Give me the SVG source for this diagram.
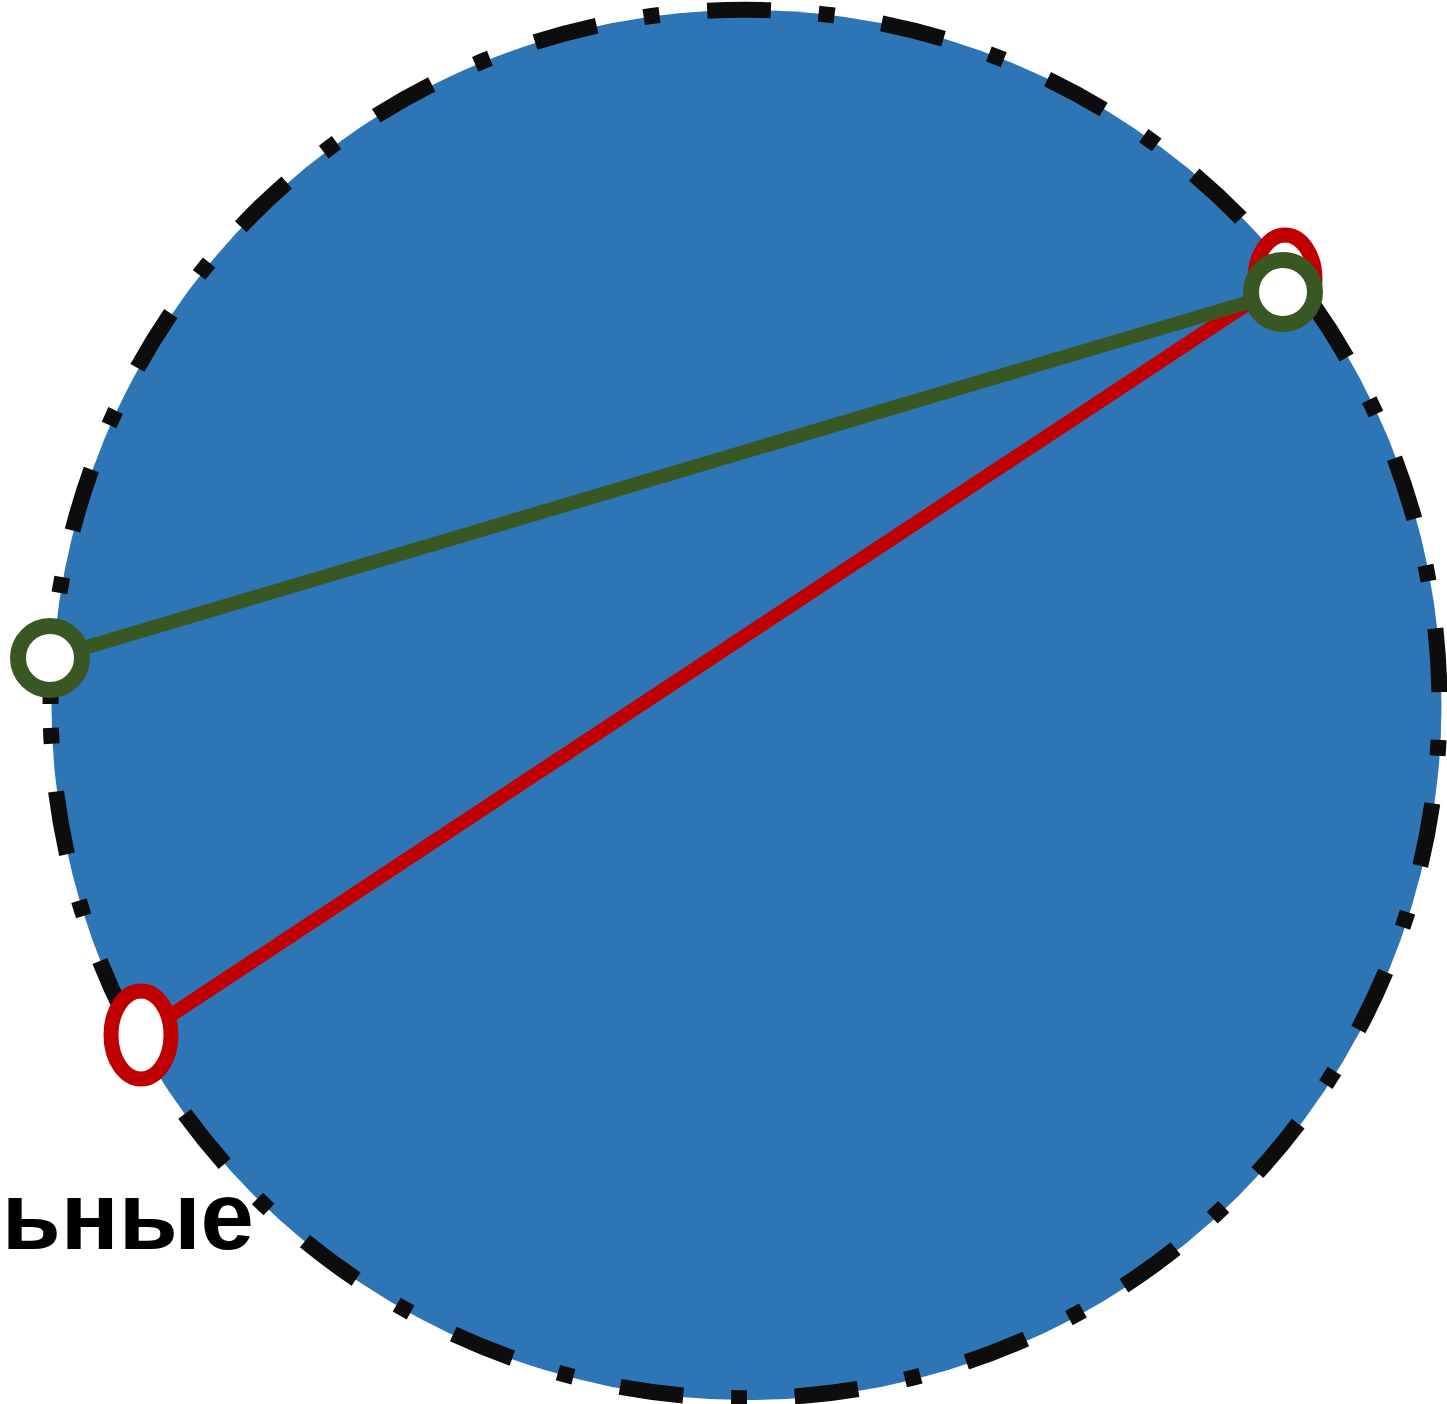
<svg xmlns="http://www.w3.org/2000/svg" width="1447" height="1404" viewBox="0 0 1447 1404">
  <style>
    .lbl { font-family: "Liberation Sans", Arial, sans-serif; font-weight: bold; font-size: 96px; fill: #000000; }
    .ring { fill: none; stroke: #0D0D0D; stroke-width: 16; stroke-dasharray: 64 48 16 48; stroke-linecap: butt; }
    .red { stroke: #C00000; }
    .green { stroke: #385723; }
    .end { fill: #FFFFFF; }
  </style>
  <rect x="0" y="0" width="1447" height="1404" fill="#FFFFFF"/>
  <g id="label">
    <text class="lbl" x="254" y="1249" text-anchor="end">ьные</text>
  </g>
  <g id="disk">
    <circle cx="746.5" cy="705" r="695" fill="#2E75B6"/>
    <path class="ring" pathLength="4376" d="M 50.5 704 A 694.5 694.5 0 0 1 1439.5 704 A 694.5 694.5 0 0 1 50.5 704 Z"/>
  </g>
  <g id="connectors" fill="none" stroke-width="14">
    <line class="red" x1="141" y1="1035" x2="1285" y2="279"/>
    <line class="green" x1="50" y1="658" x2="1283" y2="292"/>
  </g>
  <g id="red-end-top">
    <ellipse class="end red" cx="1285" cy="279" rx="30" ry="44" stroke-width="15"/>
  </g>
  <g id="red-end-bottom">
    <ellipse class="end red" cx="141" cy="1035" rx="30" ry="44" stroke-width="15"/>
  </g>
  <g id="green-end-left">
    <circle class="end green" cx="50" cy="658" r="32" stroke-width="16"/>
  </g>
  <g id="green-end-top">
    <circle class="end green" cx="1283" cy="292" r="32" stroke-width="16"/>
  </g>
</svg>
